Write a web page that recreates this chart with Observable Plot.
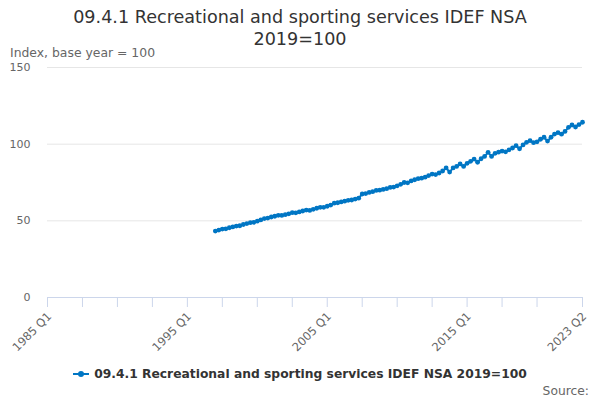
<!DOCTYPE html>
<html>
<head>
<meta charset="utf-8">
<script src="https://cdn.jsdelivr.net/npm/d3@7"></script>
<script src="https://cdn.jsdelivr.net/npm/@observablehq/plot@0.6"></script>
<style>
  body { margin: 0; font-family: "DejaVu Sans", sans-serif; background: #fff; }
  #wrap { position: relative; width: 600px; height: 400px; overflow: hidden; }
  .abs { position: absolute; white-space: nowrap; }
  #title { left: 0; width: 600px; top: 6px; text-align: center; font-size: 17.6px; color: #333; line-height: 22px; }
  #ylab { left: 10px; top: 45px; font-size: 12.4px; color: #666; }
  #legend { left: 0; width: 600px; top: 367px; text-align: center; font-size: 12.3px; font-weight: bold; color: #333; }
  #legend .sw { display: inline-block; position: relative; width: 16px; height: 10px; margin-right: 5px; vertical-align: -1px; }
  #legend .sw::before { content: ""; position: absolute; left: 0; right: 0; top: 4px; height: 2px; background: #0076c4; }
  #legend .sw::after { content: ""; position: absolute; left: 5px; top: 2px; width: 6px; height: 6px; border-radius: 3px; background: #0076c4; }
  #source { right: 11px; top: 384px; font-size: 12.3px; color: #666; }
  svg { position: absolute; left: 0; top: 0; }
</style>
</head>
<body>
<div id="wrap">
  <div id="title" class="abs">09.4.1 Recreational and sporting services IDEF NSA<br>2019=100</div>
  <div id="ylab" class="abs">Index, base year = 100</div>
  <div id="legend" class="abs"><span class="sw"></span>09.4.1 Recreational and sporting services IDEF NSA 2019=100</div>
  <div id="source" class="abs">Source:</div>
</div>
<script>
// Quarter index 0 = 1985 Q1
const startYear = 1985;
const firstIndex = 48; // 1997 Q1
const values = [
  43.3, 44.0, 44.6, 44.8,   // 1997
  45.5, 46.0, 46.6, 46.8,   // 1998
  47.6, 48.2, 48.8, 49.0,   // 1999
  49.8, 50.6, 51.5, 51.8,   // 2000
  52.5, 53.0, 53.6, 53.5,   // 2001
  54.0, 54.6, 55.3, 55.2,   // 2002
  55.8, 56.4, 57.0, 56.8,   // 2003
  57.5, 58.2, 58.8, 58.8,   // 2004
  59.5, 60.3, 61.5, 61.8,   // 2005
  62.3, 62.8, 63.4, 63.6,   // 2006
  64.2, 64.8, 67.5, 67.8,   // 2007
  68.5, 69.0, 69.8, 70.0,   // 2008
  70.5, 71.0, 71.8, 72.0,   // 2009
  72.8, 73.8, 75.0, 74.8,   // 2010
  76.0, 76.8, 77.5, 77.8,   // 2011
  78.5, 79.5, 80.5, 80.2,   // 2012
  81.2, 82.5, 84.5, 81.8,   // 2013
  84.5, 85.5, 87.1, 85.5,   // 2014
  87.5, 88.8, 90.3, 88.2,   // 2015
  90.5, 92.0, 94.7, 92.0,   // 2016
  94.0, 94.8, 95.5, 95.0,   // 2017
  96.3, 97.5, 99.0, 97.0,   // 2018
  99.5, 101.2, 102.3, 101.0, // 2019
  101.5, 103.2, 104.5, 102.0, // 2020
  104.5, 106.6, 107.5, 106.5, // 2021
  108.3, 111.0, 112.5, 111.2, // 2022
  112.8, 114.3              // 2023
];
const xTicks = [0, 10, 20, 30, 40, 50, 60, 70, 80, 90, 100, 110, 120, 130, 140, 153];
const xLabelTicks = [0, 40, 80, 120, 153];
const yTicks = [0, 50, 100, 150];

const quarterLabel = i => `${startYear + Math.floor(i / 4)} Q${(i % 4) + 1}`;
const data = values.map((v, k) => ({i: firstIndex + k, v}));

const chart = Plot.plot({
  width: 600,
  height: 400,
  marginTop: 67,
  marginBottom: 103,
  marginLeft: 47,
  marginRight: 18,
  style: {fontFamily: "DejaVu Sans, sans-serif", fontSize: "11px", background: "transparent", overflow: "visible"},
  x: {domain: [0, 153]},
  y: {domain: [0, 150]},
  marks: [
    Plot.gridY(yTicks, {stroke: "#e6e6e6", strokeOpacity: 1}),
    Plot.axisY(yTicks, {tickSize: 0, tickPadding: 17, fill: "#666", label: null, fontSize: 11}),
    Plot.ruleY([0], {stroke: "#ccd6eb", strokeWidth: 1}),
    Plot.axisX(xTicks, {tickSize: 10, stroke: "#ccd6eb", strokeOpacity: 1, tickFormat: () => "", label: null}),
    Plot.axisX(xLabelTicks, {tickSize: 0, tickPadding: 17, dx: 2, tickRotate: -45, fill: "#666", tickFormat: quarterLabel, label: null, fontSize: 11.5}),
    Plot.line(data, {x: "i", y: "v", stroke: "#0076c4", strokeWidth: 2}),
    Plot.dot(data, {x: "i", y: "v", r: 2.4, fill: "#0076c4", stroke: "none"})
  ]
});
document.getElementById("wrap").prepend(chart);
</script>
</body>
</html>
